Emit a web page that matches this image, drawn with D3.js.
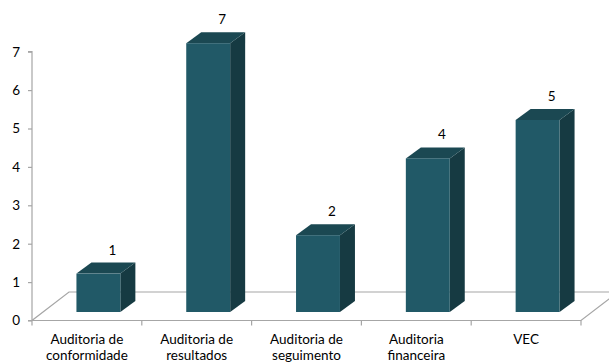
<!DOCTYPE html>
<html><head><meta charset="utf-8">
<script src="https://d3js.org/d3.v7.min.js"></script>
<style>body{margin:0;background:#fff}svg{display:block}text{font-family:Lato,"Open Sans",sans-serif;fill:#000}</style>
</head><body>
<script>
const categories = [["Auditoria de","conformidade"],["Auditoria de","resultados"],["Auditoria de","seguimento"],["Auditoria","financeira"],["VEC"]];
const values = [1,7,2,4,5];
const yTicks = [0,1,2,3,4,5,6,7];

const W=609,H=363;
const svg=d3.select("body").append("svg").attr("width",W).attr("height",H);
const keys=categories.map((c,i)=>i);
const x=d3.scaleBand().domain(keys).range([32,581]).padding(0);
const y=d3.scaleLinear().domain([0,7]).range([320.5,51.7]);

const floorDx=37, floorDy=-28.5;   // floor depth
const offDx=11.5, offDy=-8.5;      // bar front placement inside floor
const dDx=15, dDy=-11;             // bar depth
const bw=x.bandwidth()*0.4;

// floor
const y0=y(0);
svg.append("path")
  .attr("d",`M${x.range()[0]},${y0} L${x.range()[1]},${y0} L${x.range()[1]+floorDx},${y0+floorDy} L${x.range()[0]+floorDx},${y0+floorDy} Z`)
  .attr("fill","#fff").attr("stroke","#a6a6a6").attr("stroke-width",1.2);

// y axis
const ya=svg.append("g").attr("transform","translate(32,0)")
  .call(d3.axisLeft(y).tickValues(yTicks).tickSize(4).tickPadding(8).tickFormat(d3.format("d")));
ya.select(".domain").attr("stroke","#a6a6a6").attr("stroke-width",1.2).attr("d",`M-4,${y(7)}H0V${y0}H-4`);
ya.selectAll(".tick line").attr("stroke","#a6a6a6").attr("stroke-width",1.2);
ya.selectAll(".tick text").attr("font-size","13.5px").attr("fill","#000").style("font-family","Lato");

// x axis ticks
const xa=svg.append("g");
const bounds=keys.map(k=>x(k)).concat([x.range()[1]]);
xa.selectAll("line").data(bounds).join("line")
  .attr("x1",d=>d).attr("x2",d=>d).attr("y1",y0).attr("y2",y0+5)
  .attr("stroke","#a6a6a6").attr("stroke-width",1.2);
const lab=xa.selectAll("text").data(keys).join("text")
  .attr("text-anchor","middle").attr("font-size","13.5px")
  .attr("x",k=>x(k)+x.bandwidth()/2).attr("y",344);
lab.selectAll("tspan").data(k=>categories[k]).join("tspan")
  .attr("x",function(){return d3.select(this.parentNode).attr("x");})
  .attr("dy",(d,i)=>i?16:0).text(d=>d);

// bars
const g=svg.append("g");
keys.forEach(k=>{
  const v=values[k];
  const xl=x(k)+x.bandwidth()/2+offDx-bw/2, xr=xl+bw;
  const yt=y(v)+offDy, yb=y0+offDy;
  g.append("path").attr("d",`M${xr},${yt} L${xr+dDx},${yt+dDy} L${xr+dDx},${yb+dDy} L${xr},${yb} Z`)
    .attr("fill","#163a42");
  g.append("path").attr("d",`M${xl},${yt} L${xl+dDx},${yt+dDy} L${xr+dDx},${yt+dDy} L${xr},${yt} Z`)
    .attr("fill","#1b4852");
  g.append("rect").attr("x",xl).attr("y",yt).attr("width",bw).attr("height",yb-yt)
    .attr("fill","#215967");
  g.append("text").attr("text-anchor","middle").attr("font-size","13.5px")
    .attr("x",(xl+xr)/2+dDx-1).attr("y",yt+dDy-8).text(v);
});
</script>
</body></html>
